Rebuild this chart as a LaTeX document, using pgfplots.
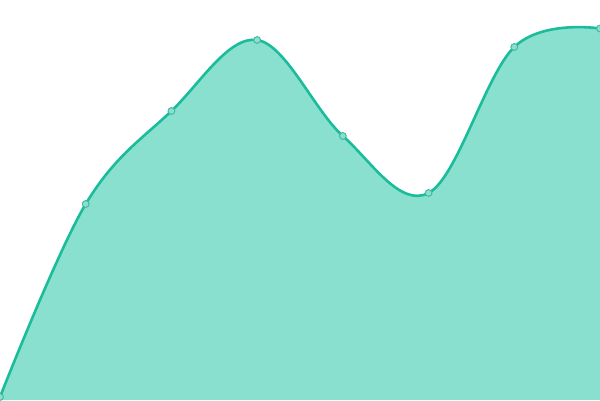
\documentclass[border=0pt]{standalone}
\usepackage{pgfplots}
\pgfplotsset{compat=1.18}
\definecolor{areafill}{HTML}{8AE0CF}
\definecolor{arealine}{HTML}{1ABC9C}
\begin{document}
\begin{tikzpicture}
    \begin{axis}[
        width=300pt, height=200pt,
        scale only axis,
        hide axis,
        xmin=0, xmax=7,
        ymin=0, ymax=400,
        clip mode=individual,
    ]
    \addplot[fill=areafill, draw=none, smooth, tension=0.6]
        coordinates {
         (0,3)(1,196)(2,289)(3,360)(4,264)(5,207)(6,353)(7,371.5)
        } \closedcycle;
    \addplot[color=arealine, line width=1.3pt, smooth, tension=0.6,
             mark=*, mark size=1.7pt,
             mark options={fill=areafill, draw=arealine!85!black!60!areafill, line width=0.5pt}]
        coordinates {
         (0,3)(1,196)(2,289)(3,360)(4,264)(5,207)(6,353)(7,371.5)
        };
    \end{axis}
    \pgfresetboundingbox
    \path (current axis.south west) rectangle (current axis.north east);
\end{tikzpicture}
\end{document}
